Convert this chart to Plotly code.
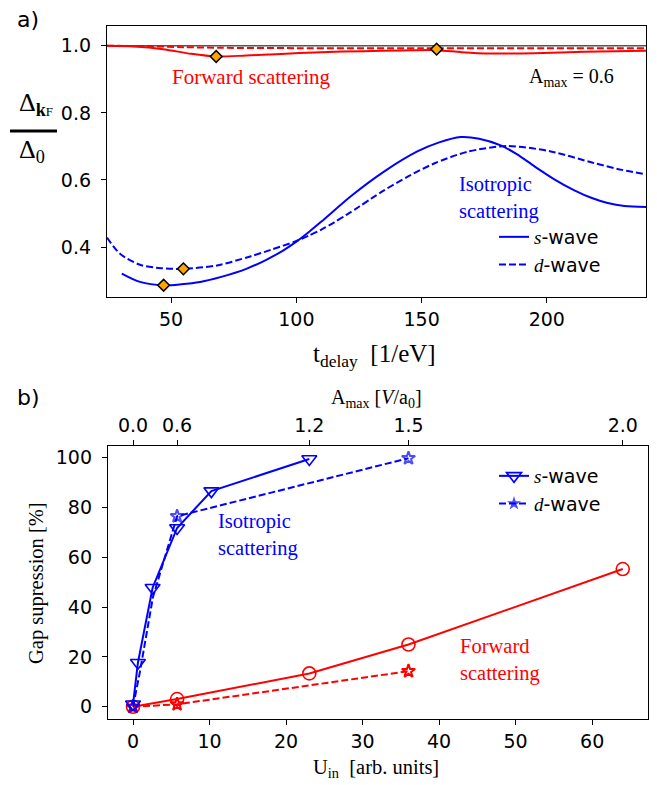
import plotly.graph_objects as go

W, H = 657, 785

# ---------------- Panel a) data ----------------
iso_s_t = [30.3, 37.6, 47, 54, 61.6, 70, 80, 88, 95, 100, 105, 110, 122, 135, 148.3, 157, 165.6, 173, 181.6, 188, 195, 203, 211, 218, 224.3, 231, 239.6]
iso_s_y = [0.321, 0.296, 0.286, 0.289, 0.296, 0.311, 0.335, 0.362, 0.391, 0.416, 0.445, 0.476, 0.553, 0.625, 0.685, 0.712, 0.728, 0.723, 0.703, 0.677, 0.641, 0.602, 0.569, 0.546, 0.531, 0.522, 0.519]

iso_d_t = [24.4, 29.6, 37.6, 46, 54.9, 68.3, 81.6, 90, 100, 105, 110, 115, 120, 125, 130, 135, 145, 155, 168.3, 184.3, 201.6, 219, 230, 239.6]
iso_d_y = [0.428, 0.380, 0.347, 0.337, 0.335, 0.345, 0.372, 0.392, 0.418, 0.434, 0.452, 0.473, 0.496, 0.520, 0.545, 0.569, 0.612, 0.649, 0.684, 0.701, 0.685, 0.650, 0.630, 0.617]

fw_s_t = [24.4, 35, 46.8, 58, 68, 80, 92, 110, 127, 142, 156, 166, 178, 195, 215, 239.6]
fw_s_y = [1.0, 0.998, 0.99, 0.976, 0.968, 0.971, 0.975, 0.981, 0.984, 0.986, 0.987, 0.981, 0.977, 0.978, 0.982, 0.985]

fw_d_t = [24.4, 40, 55, 70, 100, 150, 200, 239.6]
fw_d_y = [1.0, 0.999, 0.996, 0.994, 0.993, 0.993, 0.993, 0.993]

dia_t = [47, 54.9, 68, 156]
dia_y = [0.286, 0.335, 0.968, 0.99]

# ---------------- Panel b) data ----------------
iso_s_U = [0, 0.64, 2.56, 5.76, 10.24, 23.04]
iso_s_gap = [1.0, 17.7, 47.8, 71.8, 86.6, 99.5]

iso_d_U = [0, 0.9, 2.6, 5.76, 36]
iso_d_gap = [0, 14, 44, 76.5, 99.8]
iso_d_marker = [10, 0, 0, 10, 10]

fw_s_U = [0, 5.76, 23.04, 36, 64]
fw_s_gap = [0, 3.1, 13.4, 25.0, 55.3]

fw_d_U = [0, 5.76, 36]
fw_d_gap = [0, 1.0, 14.3]

amax_labels = ["0.0", "0.6", "1.2", "1.5", "2.0"]
amax_at_U = [0, 5.76, 23.04, 36, 64]

BLUE = "#0000ff"
RED = "#ff0000"
SANS = "DejaVu Sans"
SERIF = "Liberation Serif"
DASH = "7px,3px"

def px(x):
    return x / W

def py(y):
    return 1 - y / H

fig = go.Figure()

# ---- panel a traces ----
fig.add_trace(go.Scatter(x=fw_d_t, y=fw_d_y, mode="lines", line=dict(color=RED, width=2, dash=DASH, shape="spline", smoothing=0.8),
                         xaxis="x", yaxis="y", showlegend=False))
fig.add_trace(go.Scatter(x=fw_s_t, y=fw_s_y, mode="lines", line=dict(color=RED, width=2, shape="spline", smoothing=0.8),
                         xaxis="x", yaxis="y", showlegend=False))
fig.add_trace(go.Scatter(x=iso_s_t, y=iso_s_y, mode="lines", line=dict(color=BLUE, width=2, shape="spline", smoothing=0.8),
                         xaxis="x", yaxis="y", legend="legend",
                         name="<span style='font-family:Liberation Serif'><i>s</i></span>-wave"))
fig.add_trace(go.Scatter(x=iso_d_t, y=iso_d_y, mode="lines", line=dict(color=BLUE, width=2, dash=DASH, shape="spline", smoothing=0.8),
                         xaxis="x", yaxis="y", legend="legend",
                         name="<span style='font-family:Liberation Serif'><i>d</i></span>-wave"))
fig.add_trace(go.Scatter(x=dia_t, y=dia_y, mode="markers",
                         marker=dict(symbol="diamond", size=9, color="orange", line=dict(color="black", width=1.5)),
                         xaxis="x", yaxis="y", showlegend=False))

# ---- panel b traces ----
fig.add_trace(go.Scatter(x=fw_d_U, y=fw_d_gap, mode="lines+markers",
                         line=dict(color=RED, width=2, dash=DASH),
                         marker=dict(symbol="star-open", size=10, color=RED, line=dict(width=2)),
                         xaxis="x2", yaxis="y2", showlegend=False))
fig.add_trace(go.Scatter(x=fw_s_U, y=fw_s_gap, mode="lines+markers",
                         line=dict(color=RED, width=2),
                         marker=dict(symbol="circle-open", size=13, color=RED, line=dict(width=1.6)),
                         xaxis="x2", yaxis="y2", showlegend=False))
fig.add_trace(go.Scatter(x=iso_s_U, y=iso_s_gap, mode="lines+markers",
                         line=dict(color=BLUE, width=2),
                         marker=dict(symbol="triangle-down-open", size=13, color=BLUE, line=dict(width=1.6)),
                         xaxis="x2", yaxis="y2", legend="legend2",
                         name="<span style='font-family:Liberation Serif'><i>s</i></span>-wave"))
fig.add_trace(go.Scatter(x=iso_d_U, y=iso_d_gap, mode="lines+markers",
                         line=dict(color=BLUE, width=2, dash=DASH),
                         marker=dict(symbol="star-open", size=iso_d_marker, color=BLUE, line=dict(width=2)),
                         xaxis="x2", yaxis="y2", legend="legend2",
                         name="<span style='font-family:Liberation Serif'><i>d</i></span>-wave"))

# reference line at 1.0
fig.add_shape(type="line", xref="x domain", yref="y", x0=0, x1=1, y0=1.0, y1=1.0,
              line=dict(color="#555555", width=1.5), layer="below")

axis_common = dict(showline=True, mirror=True, linecolor="black", linewidth=1.3,
                   ticks="outside", ticklen=5, tickwidth=1.3, tickcolor="black",
                   showgrid=False, zeroline=False,
                   tickfont=dict(family=SANS, size=19, color="black"))

fig.update_layout(
    width=W, height=H,
    margin=dict(l=0, r=0, t=0, b=0),
    paper_bgcolor="white", plot_bgcolor="white",
    xaxis=dict(domain=[px(107), px(646)], range=[24.4, 239.6], anchor="y",
               tickvals=[50, 100, 150, 200], **axis_common),
    yaxis=dict(domain=[py(297), py(26)], range=[0.251, 1.059], anchor="x",
               tickvals=[0.4, 0.6, 0.8, 1.0], tickformat=".1f", ticklabelstandoff=6, **axis_common),
    xaxis2=dict(domain=[px(108), px(648)], range=[-3.27, 67.3], anchor="y2",
                tickvals=[0, 10, 20, 30, 40, 50, 60], **axis_common),
    yaxis2=dict(domain=[py(719), py(446)], range=[-4.9, 104.7], anchor="x2",
                tickvals=[0, 20, 40, 60, 80, 100], ticklabelstandoff=6, **axis_common),
    xaxis3=dict(overlaying="x2", side="top", anchor="y2", range=[-3.27, 67.3],
                tickvals=amax_at_U, ticktext=amax_labels, showline=False,
                ticks="outside", ticklen=5, tickwidth=1.3, tickcolor="black",
                showgrid=False, zeroline=False,
                tickfont=dict(family=SANS, size=19, color="black")),
    legend=dict(x=px(494), y=py(218), xanchor="left", yanchor="top",
                bgcolor="rgba(0,0,0,0)", font=dict(family=SANS, size=19, color="black")),
    legend2=dict(x=px(494), y=py(457), xanchor="left", yanchor="top",
                 bgcolor="rgba(0,0,0,0)", font=dict(family=SANS, size=19, color="black")),
    showlegend=True,
)

# dummy trace to activate xaxis3
fig.add_trace(go.Scatter(x=[amax_at_U[0]], y=[None], xaxis="x3", yaxis="y2", showlegend=False, hoverinfo="skip"))

def ann(text, x, y, size=19, color="black", family=SERIF, xanchor="center", align="center", angle=0):
    fig.add_annotation(text=text, x=px(x), y=py(y), xref="paper", yref="paper",
                       showarrow=False, xanchor=xanchor, yanchor="middle", align=align,
                       textangle=angle, font=dict(family=family, size=size, color=color))

ann("a)", 28, 20, size=22, family=SANS)
ann("b)", 28, 397, size=22, family=SANS)
ann("Forward scattering", 251, 77, size=21, color=RED)
ann("A<sub>max</sub> = 0.6", 571, 78, size=20)
ann("Isotropic<br>scattering", 457, 198, size=20.5, color=BLUE, xanchor="left", align="left")
ann("Isotropic<br>scattering", 216, 535, size=20.5, color=BLUE, xanchor="left", align="left")
ann("Forward<br>scattering", 458, 660, size=20.5, color=RED, xanchor="left", align="left")

# axis titles
ann("t<sub>delay</sub>  [1/eV]", 374, 355, size=25)
ann("A<sub>max</sub> [<i>V</i>/a<sub>0</sub>]", 376, 398, size=20)
ann("U<sub>in</sub>  [arb. units]", 376, 768, size=20.5)
ann("Gap supression [%]", 36, 583, size=20.5, angle=-90)

# fraction y-label for panel a
ann("Δ<sub><b>k</b><span style='font-size:13px'>F</span></sub>", 36, 104, size=26)
ann("Δ<sub>0</sub>", 32, 151, size=26)
fig.add_shape(type="line", xref="paper", yref="paper", x0=px(10), x1=px(57), y0=py(131), y1=py(131),
              line=dict(color="black", width=3))

fig.write_html("out.html")
